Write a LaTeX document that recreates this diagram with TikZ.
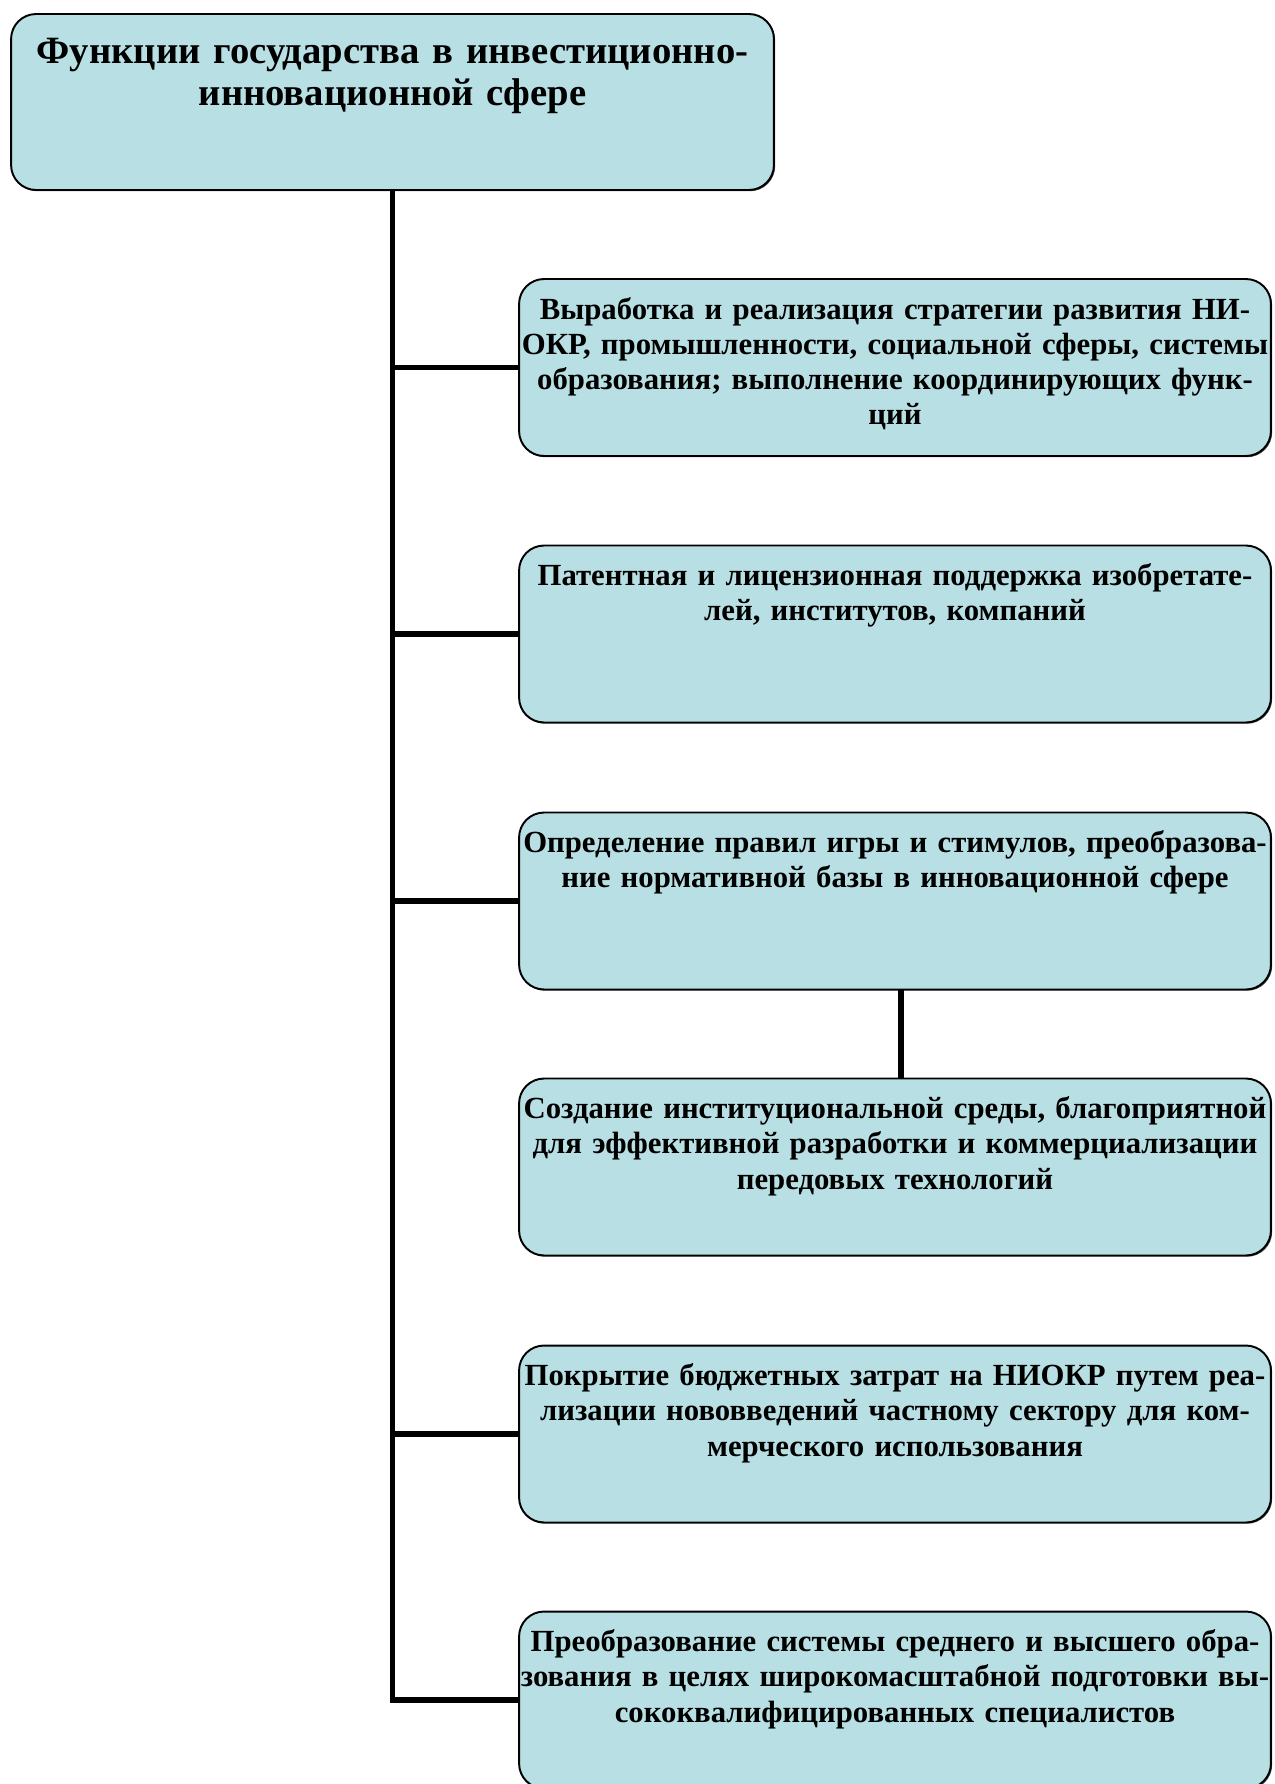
\documentclass[tikz,border=0pt]{standalone}
\usepackage{fontspec}
\setmainfont{Liberation Serif}
\usetikzlibrary{shadows}
\definecolor{boxblue}{RGB}{184,223,227}

\begin{document}
\begin{tikzpicture}[x=0.02cm, y=-0.02cm]
	\clip (0,0) rectangle (1274,1784);
	\begin{scope}[every node/.style={draw, fill=boxblue, rounded corners=0.5cm, line width=1.1pt,
	              drop shadow={shadow xshift=0.7pt, shadow yshift=-0.7pt, fill=black!70, opacity=1},
	              inner sep=0pt, align=center, font=\bfseries\fontsize{17.5}{20.1}\selectfont,
	              text width=15.04cm, text height=0.8cm, text depth=2.74cm}]
		\node[text width=15.26cm, text height=0.99cm, text depth=2.53cm,
		      font=\bfseries\fontsize{22}{24}\selectfont] (t) at (392.5,102)
		      {Функции государства в инвестиционно-\\инновационной сфере};
		\node (1) at (895,367.5) {Выработка и реализация стратегии развития НИ-\\ОКР, промышленности, социальной сферы, системы\\образования; выполнение координирующих функ-\\ций};
		\node (2) at (895,634) {Патентная и лицензионная поддержка изобретате-\\лей, институтов, компаний};
		\node (3) at (895,901) {Определение правил игры и стимулов, преобразова-\\ние нормативной базы в инновационной сфере};
		\node (4) at (895,1167) {Создание институциональной среды, благоприятной\\для эффективной разработки и коммерциализации\\передовых технологий};
		\node (5) at (895,1434) {Покрытие бюджетных затрат на НИОКР путем реа-\\лизации нововведений частному сектору для ком-\\мерческого использования};
		\node (6) at (895,1700) {Преобразование системы среднего и высшего обра-\\зования в целях широкомасштабной подготовки вы-\\сококвалифицированных специалистов};
	\end{scope}

	\begin{scope}[every edge/.style={draw=black, line width=3pt, line join=miter}]
		\path (t.south) edge[to path={|- (\tikztotarget)}] (6.west);
		\path (1.west) edge (1.west -| t.south);
		\path (2.west) edge (2.west -| t.south);
		\path (3.west) edge (3.west -| t.south);
		\path (5.west) edge (5.west -| t.south);
		\path ([xshift=0.12cm]3.south) edge ([xshift=0.12cm]4.north);
	\end{scope}
\end{tikzpicture}
\end{document}
